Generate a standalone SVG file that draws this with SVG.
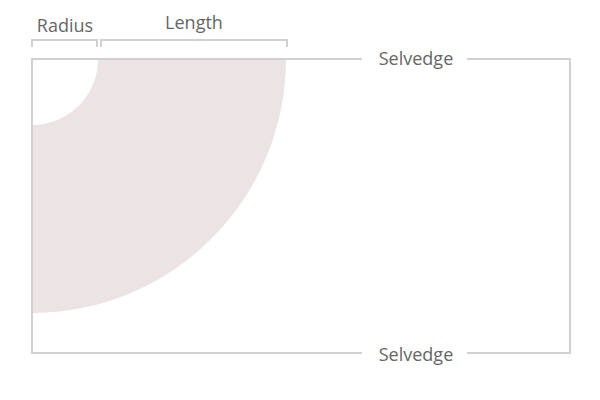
<svg xmlns="http://www.w3.org/2000/svg" width="600" height="400" viewBox="0 0 600 400">
  <style>
    .line { fill: none; stroke: #d3d0d1; stroke-width: 2; }
    .label { font-family: "Open Sans", "Liberation Sans", sans-serif; font-size: 18px; fill: #666666; text-anchor: middle; }
  </style>
  <rect width="600" height="400" fill="#ffffff"/>
  <g id="cut-piece">
    <path d="M98,59 H286 A254,254 0 0 1 32,313 V125 A66,66 0 0 0 98,59 Z" fill="#ebe3e4"/>
  </g>
  <g id="connectors">
    <path class="line" d="M362,59 H32 V353 H362"/>
    <path class="line" d="M467,59 H570 V353 H467"/>
    <path class="line" d="M32,47 V40 H97 V47"/>
    <path class="line" d="M101,47 V40 H287 V47"/>
  </g>
  <g id="radius-label">
    <text class="label" x="65" y="32">Radius</text>
  </g>
  <g id="length-label">
    <text class="label" x="194" y="29">Length</text>
  </g>
  <g id="selvedge-top">
    <text class="label" x="416" y="65">Selvedge</text>
  </g>
  <g id="selvedge-bottom">
    <text class="label" x="416" y="361">Selvedge</text>
  </g>
</svg>
